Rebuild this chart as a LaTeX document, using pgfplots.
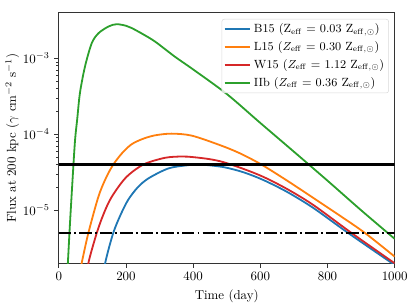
\documentclass[border=0pt]{standalone}
\usepackage{pgfplots}
\pgfplotsset{compat=1.18}
\usetikzlibrary{calc}
\definecolor{tblue}{HTML}{1F77B4}
\definecolor{torange}{HTML}{FF7F0E}
\definecolor{tred}{HTML}{D62728}
\definecolor{tgreen}{HTML}{2CA02C}
\begin{document}
\begin{tikzpicture}
\begin{axis}[name=ax, scale only axis, width=260pt, height=194pt,
  ymode=log, xmin=0, xmax=1000, ymin=2e-6, ymax=4e-3,
  xtick={0,200,400,600,800,1000},
  xticklabel style={/pgf/number format/1000 sep={}},
  ytick={1e-5,1e-4,1e-3},
  xtick pos=left, ytick pos=left, tick align=outside,
  major tick length=3.5pt, minor tick length=2pt,
  axis line style={black!80, line width=0.6pt},
  every tick/.style={black!80, line width=0.5pt},
  xlabel={Time (day)},
  ylabel={Flux at 200 kpc ($\gamma$ cm$^{-2}$ s$^{-1}$)},
  ylabel shift=-4pt,
  legend cell align=left,
  legend style={at={(rel axis cs:0.983,0.975)}, anchor=north east, draw=black!15, rounded corners=2pt, fill=white, fill opacity=0.8, text opacity=1, row sep=1.5pt, inner sep=1.5pt, font=\fontsize{9.2}{11}\selectfont},
  legend image code/.code={\draw[#1] (0pt,0pt) -- (20pt,0pt);},
  every axis plot/.append style={line width=1.4pt},
]
\addplot[tblue, smooth, line width=1.4pt] coordinates {
(130,1.0e-6) (138,2.0e-6) (162,5.0e-6) (185,8.9e-6) (207,1.38e-5) (235,2.0e-5) (267,2.63e-5)
(326,3.55e-5) (380,3.9e-5) (420,4.0e-5) (490,3.7e-5) (550,3.16e-5) (609,2.5e-5)
(680,1.74e-5) (758,1.07e-5) (862,5.0e-6) (1000,1.9e-6)};
\addlegendentry{B15 (Z$_{\rm eff}$ = 0.03 Z$_{\rm eff,\odot}$)}
\addplot[torange, smooth, line width=1.4pt] coordinates {
(62,1.5e-6) (68,2.0e-6) (88,5.0e-6) (118,1.51e-5) (140,2.63e-5) (162,3.98e-5)
(190,5.75e-5) (217,7.4e-5) (250,8.7e-5) (287,9.7e-5) (336,1.02e-4) (396,9.6e-5)
(480,7.2e-5) (540,5.6e-5) (604,3.98e-5) (680,2.45e-5) (758,1.45e-5) (840,8.3e-6)
(912,5.0e-6) (1000,2.45e-6)};
\addlegendentry{L15 ($Z_{\rm eff}$ = 0.30 Z$_{\rm eff,\odot}$)}
\addplot[tred, smooth, line width=1.4pt] coordinates {
(80,1.0e-6) (88,2.0e-6) (113,5.0e-6) (135,9.3e-6) (158,1.51e-5) (200,2.7e-5)
(252,4.0e-5) (316,4.9e-5) (366,5.1e-5) (401,5.0e-5) (450,4.7e-5) (490,4.3e-5) (550,3.5e-5)
(609,2.75e-5) (680,1.9e-5) (758,1.17e-5) (872,5.0e-6) (1000,2.0e-6)};
\addlegendentry{W15 ($Z_{\rm eff}$ = 1.12 Z$_{\rm eff,\odot}$)}
\addplot[tgreen, smooth, line width=1.4pt] coordinates {
(22,8e-7) (27,2.0e-6) (33,6.3e-6) (39,1.8e-5) (48,7.9e-5) (55,1.6e-4) (63,3.5e-4)
(78,7.8e-4) (98,1.58e-3) (118,2.14e-3) (148,2.63e-3) (172,2.82e-3) (200,2.69e-3)
(217,2.51e-3) (250,2.09e-3) (287,1.66e-3) (346,1.05e-3) (401,7.1e-4) (500,3.4e-4)
(600,1.41e-4) (700,5.9e-5) (800,2.45e-5) (900,1.0e-5) (1000,4.2e-6)};
\addlegendentry{IIb ($Z_{\rm eff}$ = 0.36 Z$_{\rm eff,\odot}$)}
\addplot[black, line width=1.6pt, forget plot] coordinates {(0,4e-5) (1000,4e-5)};
\addplot[black, line width=1.4pt, dash pattern=on 9.6pt off 2.4pt on 1.5pt off 2.4pt, forget plot] coordinates {(0,5e-6) (1000,5e-6)};
\end{axis}
\pgfresetboundingbox
\useasboundingbox ($(ax.south west)+(-45.5pt,-34.6pt)$) rectangle ($(ax.north east)+(16.5pt,9.8pt)$);
\end{tikzpicture}
\end{document}
